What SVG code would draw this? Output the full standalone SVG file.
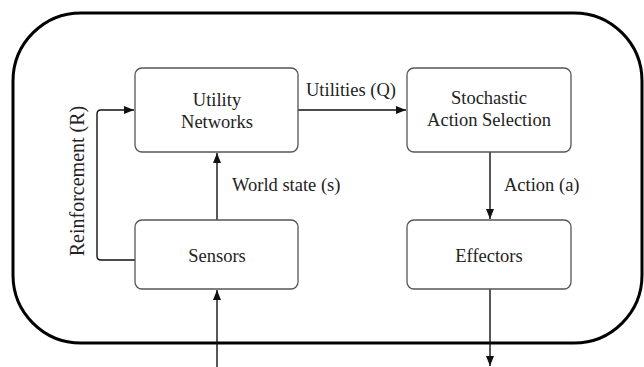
<svg xmlns="http://www.w3.org/2000/svg" width="644" height="367" viewBox="0 0 644 367">
<style>
.box{fill:#fff;stroke:#555;stroke-width:1.3}
.t{font-family:"Liberation Serif","Times New Roman",serif;font-size:18.5px;fill:#222;text-anchor:middle}
.l{font-family:"Liberation Serif","Times New Roman",serif;font-size:18.5px;fill:#222}
.c{fill:none;stroke:#111;stroke-width:1.4}
</style>
<defs>
<marker id="ah" viewBox="0 0 10 8" refX="10" refY="4" markerWidth="10" markerHeight="8" markerUnits="userSpaceOnUse" orient="auto">
<path d="M0,0 L10,4 L0,8 z" fill="#111"/>
</marker>
</defs>
<rect id="agent" x="13" y="13" width="629" height="330" rx="68" ry="68" fill="none" stroke="#000" stroke-width="3"/>
<g id="connectors">
<path class="c" d="M298,110 H406" marker-end="url(#ah)"/>
<path class="c" d="M217,220 V153" marker-end="url(#ah)"/>
<path class="c" d="M490,152 V219" marker-end="url(#ah)"/>
<path class="c" d="M135,260 H101 Q97,260 97,256 V114 Q97,110 101,110 H134" marker-end="url(#ah)"/>
<path class="c" d="M217,367 V290" marker-end="url(#ah)"/>
<path class="c" d="M490,289 V366" marker-end="url(#ah)"/>
<text class="l" x="306" y="96">Utilities (Q)</text>
<text class="l" x="232" y="191">World state (s)</text>
<text class="l" x="504" y="191">Action (a)</text>
<text class="t" transform="translate(84,181) rotate(-90)" style="font-size:20px">Reinforcement (R)</text>
</g>
<g id="utility">
<rect class="box" x="135" y="68" width="163" height="84" rx="7"/>
<text class="t" x="217" y="106">Utility</text>
<text class="t" x="217" y="128">Networks</text>
</g>
<g id="stochastic">
<rect class="box" x="407" y="68" width="164" height="84" rx="7"/>
<text class="t" x="489" y="104">Stochastic</text>
<text class="t" x="489" y="126">Action Selection</text>
</g>
<g id="sensors">
<rect class="box" x="135" y="220" width="163" height="69" rx="7"/>
<text class="t" x="217" y="262">Sensors</text>
</g>
<g id="effectors">
<rect class="box" x="407" y="220" width="164" height="69" rx="7"/>
<text class="t" x="489" y="262">Effectors</text>
</g>
</svg>
